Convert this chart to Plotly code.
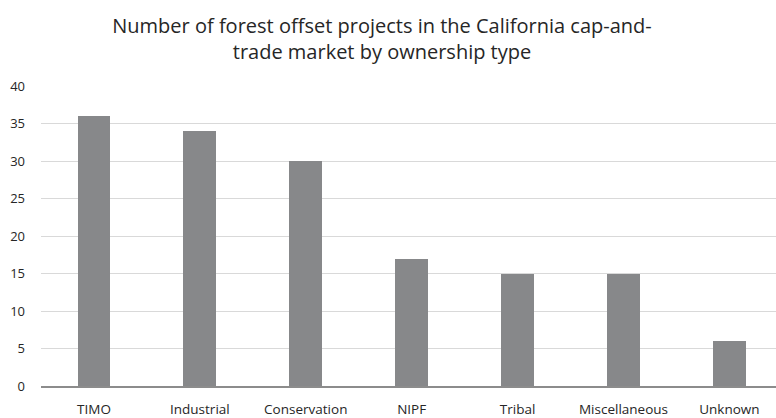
import plotly.graph_objects as go

categories = ["TIMO", "Industrial", "Conservation", "NIPF", "Tribal", "Miscellaneous", "Unknown"]
projects = [36, 34, 30, 17, 15, 15, 6]
y_ticks = [0, 5, 10, 15, 20, 25, 30, 35, 40]

fig = go.Figure(
    go.Bar(
        x=categories,
        y=projects,
        marker=dict(color="#87888a", line=dict(width=0)),
        width=0.31,
    )
)

fig.update_layout(
    width=776,
    height=418,
    margin=dict(l=41, r=0, t=86, b=30),
    paper_bgcolor="white",
    plot_bgcolor="white",
    font=dict(family="Open Sans, sans-serif", color="#404040", size=12),
    title=dict(
        text="Number of forest offset projects in the California cap-and-<br>trade market by ownership type",
        x=382 / 776,
        xanchor="center",
        xref="container",
        yref="container",
        y=1 - 32.5 / 418,
        yanchor="middle",
        font=dict(family="Open Sans, sans-serif", size=20, color="#262626"),
    ),
    showlegend=False,
    bargap=0,
)

fig.update_xaxes(
    range=[-0.5, 6.44],
    showgrid=False,
    showline=True,
    linecolor="#8c8c8c",
    linewidth=1.5,
    ticks="",
    tickfont=dict(size=13.5, color="#262626"),
    ticklabelstandoff=10,
)

fig.update_yaxes(
    range=[0, 40],
    tickvals=y_ticks,
    showgrid=True,
    gridcolor="#d9d9d9",
    gridwidth=1,
    zeroline=False,
    showline=False,
    ticks="",
    tickfont=dict(size=13, color="#262626"),
    ticklabelstandoff=15,
)

fig.write_html("out.html")
